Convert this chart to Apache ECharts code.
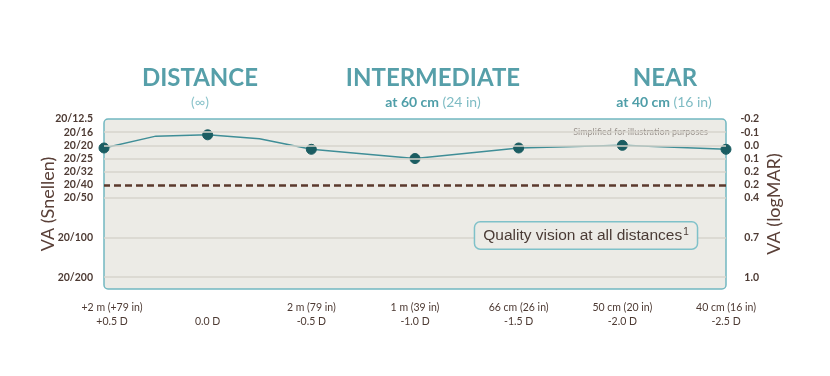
<!DOCTYPE html>
<html>
<head>
<meta charset="utf-8">
<script src="https://cdn.jsdelivr.net/npm/echarts@6/dist/echarts.min.js"></script>
<style>
  html, body { margin: 0; padding: 0; background: #fff; }
  #main { width: 830px; height: 376px; }
</style>
</head>
<body>
<div id="main"></div>
<script>
// defocus curve (diopters -> logMAR)
var diopters = [0.5, 0.25, 0, -0.25, -0.5, -1.0, -1.5, -2.0, -2.5];
var logMAR = [0.02, -0.07, -0.08, -0.05, 0.03, 0.10, 0.02, 0.00, 0.03];
var measured = [true, false, true, false, true, true, true, true, true];

// x tick labels
var xTickVals = [0.5, 0, -0.5, -1.0, -1.5, -2.0, -2.5];
var xTickDist = ['+2 m (+79 in)', '', '2 m (79 in)', '1 m (39 in)', '66 cm (26 in)', '50 cm (20 in)', '40 cm (16 in)'];
var xTickDiop = ['+0.5 D', '0.0 D', '-0.5 D', '-1.0 D', '-1.5 D', '-2.0 D', '-2.5 D'];

// y tick labels
var yTickVals = [-0.2, -0.1, 0.0, 0.1, 0.2, 0.3, 0.4, 0.7, 1.0];
var snellenLabels = ['20/12.5', '20/16', '20/20', '20/25', '20/32', '20/40', '20/50', '20/100', '20/200'];
var logmarLabels = ['-0.2', '-0.1', '0.0', '0.1', '0.2', '0.2', '0.4', '0.7', '1.0'];
var gridVals = [-0.1, 0.0, 0.1, 0.2, 0.4, 0.7, 1.0];
var thresholdVal = 0.3;

var brown = '#4d3a33';

function lookup(vals, labels, v) {
    for (var i = 0; i < vals.length; i++) {
        if (Math.abs(vals[i] - v) < 1e-6) return labels[i];
    }
    return '';
}

var G = {left: 104, top: 119, width: 622, height: 170};

var myChart = echarts.init(document.getElementById('main'));

var pts = [];
for (var i = 0; i < diopters.length; i++) {
    pts.push({
        value: [diopters[i], logMAR[i]],
        symbol: measured[i] ? 'circle' : 'none'
    });
}

var option = {
    animation: false,
    textStyle: {fontFamily: 'Lato'},
    grid: {left: G.left, top: G.top, width: G.width, height: G.height},
    xAxis: {
        type: 'value',
        inverse: true,
        min: -2.5,
        max: 0.5,
        interval: 0.5,
        axisLine: {show: false},
        axisTick: {show: false},
        splitLine: {show: false},
        axisLabel: {
            margin: 12,
            color: brown,
            fontSize: 10.5,
            lineHeight: 14,
            formatter: function (v) {
                var a = lookup(xTickVals, xTickDist, v), b = lookup(xTickVals, xTickDiop, v);
                if (v === 0.5) return '{f|' + a + '}\n{f|' + b + '}';
                return a + '\n' + b;
            },
            rich: {
                f: {fontSize: 10.5, lineHeight: 14, color: brown, padding: [0, 0, 0, 16]}
            }
        }
    },
    yAxis: [
        {
            type: 'value',
            inverse: true,
            min: -0.2,
            max: 1.09,
            interval: 0.1,
            position: 'left',
            name: 'VA (Snellen)',
            nameLocation: 'middle',
            nameRotate: 90,
            nameMoveOverlap: false,
            nameGap: 47,
            nameTextStyle: {color: '#5a4038', fontSize: 18},
            axisLine: {show: false},
            axisTick: {show: false},
            splitLine: {show: false},
            axisLabel: {
                margin: 11,
                color: brown,
                fontSize: 10.5,
                fontWeight: 'bold',
                formatter: function (v) { return lookup(yTickVals, snellenLabels, v); }
            }
        },
        {
            type: 'value',
            inverse: true,
            min: -0.2,
            max: 1.09,
            interval: 0.1,
            position: 'right',
            name: 'VA (logMAR)',
            nameLocation: 'middle',
            nameRotate: 90,
            nameMoveOverlap: false,
            nameGap: 39,
            nameTextStyle: {color: '#5a4038', fontSize: 18},
            axisLine: {show: false},
            axisTick: {show: false},
            splitLine: {show: false},
            axisLabel: {
                margin: 33,
                align: 'right',
                color: brown,
                fontSize: 10.5,
                fontWeight: 'bold',
                formatter: function (v) { return lookup(yTickVals, logmarLabels, v); }
            }
        }
    ],
    graphic: [
        {
            type: 'rect',
            z: 0,
            shape: {x: G.left, y: G.top, width: G.width, height: G.height, r: 4},
            style: {fill: '#ecebe6', stroke: '#72b8c1', lineWidth: 1.5}
        },
        {
            type: 'text', z: 5,
            style: {x: 200, y: 78, text: 'DISTANCE', textAlign: 'center', textVerticalAlign: 'middle',
                font: 'bold 24px Lato', fill: '#569fa9'}
        },
        {
            type: 'text', z: 5,
            style: {x: 200, y: 102, text: '(∞)', textAlign: 'center', textVerticalAlign: 'middle',
                font: '14px Lato', fill: '#8cc4cb'}
        },
        {
            type: 'text', z: 5,
            style: {x: 433, y: 78, text: 'INTERMEDIATE', textAlign: 'center', textVerticalAlign: 'middle',
                font: 'bold 24px Lato', fill: '#569fa9'}
        },
        {
            type: 'text', z: 5,
            style: {x: 433, y: 102, textAlign: 'center', textVerticalAlign: 'middle',
                text: '{b|at 60 cm} {n|(24 in)}',
                rich: {
                    b: {fontFamily: 'Lato', fontWeight: 'bold', fontSize: 14, fill: '#4f9ea8'},
                    n: {fontFamily: 'Lato', fontSize: 14, fill: '#7fbcc4'}
                }}
        },
        {
            type: 'text', z: 5,
            style: {x: 665, y: 78, text: 'NEAR', textAlign: 'center', textVerticalAlign: 'middle',
                font: 'bold 24px Lato', fill: '#569fa9'}
        },
        {
            type: 'text', z: 5,
            style: {x: 664, y: 102, textAlign: 'center', textVerticalAlign: 'middle',
                text: '{b|at 40 cm} {n|(16 in)}',
                rich: {
                    b: {fontFamily: 'Lato', fontWeight: 'bold', fontSize: 14, fill: '#4f9ea8'},
                    n: {fontFamily: 'Lato', fontSize: 14, fill: '#7fbcc4'}
                }}
        },
        {
            type: 'text', z: 5,
            style: {x: 708, y: 132, text: 'Simplified for illustration purposes', textAlign: 'right',
                textVerticalAlign: 'middle', font: '9px Lato', fill: '#9b948e'}
        },
        {
            type: 'text', z: 10,
            style: {
                x: 586, y: 235.5, textAlign: 'center', textVerticalAlign: 'middle',
                text: '{t|Quality vision at all distances}{s|1}',
                rich: {
                    t: {fontFamily: 'Liberation Sans', fontSize: 15.5, fill: '#4a3b35'},
                    s: {fontFamily: 'Liberation Sans', fontSize: 10, fill: '#4a3b35', verticalAlign: 'top', padding: [0, 0, 6, 1]}
                },
                backgroundColor: '#ecebe6',
                borderColor: '#7fc1c9',
                borderWidth: 1.5,
                borderRadius: 5,
                padding: [5, 8, 5, 8]
            }
        }
    ],
    series: [
        {
            type: 'line',
            z: 1,
            silent: true,
            data: [],
            markLine: {
                silent: true,
                symbol: 'none',
                label: {show: false},
                data: gridVals.map(function (v) {
                    return {yAxis: v, lineStyle: {color: '#d7d5cd', width: 1.5, type: 'solid'}};
                }).concat([{yAxis: thresholdVal, lineStyle: {color: '#5b3a2e', width: 2.5, type: [7, 4]}}])
            }
        },
        {
            type: 'line',
            z: 3,
            data: pts,
            symbolSize: 10,
            lineStyle: {color: '#3f8e97', width: 1.5},
            itemStyle: {color: '#1b5d62', borderColor: '#1b5d62'}
        }
    ]
};

myChart.setOption(option);
</script>
</body>
</html>
